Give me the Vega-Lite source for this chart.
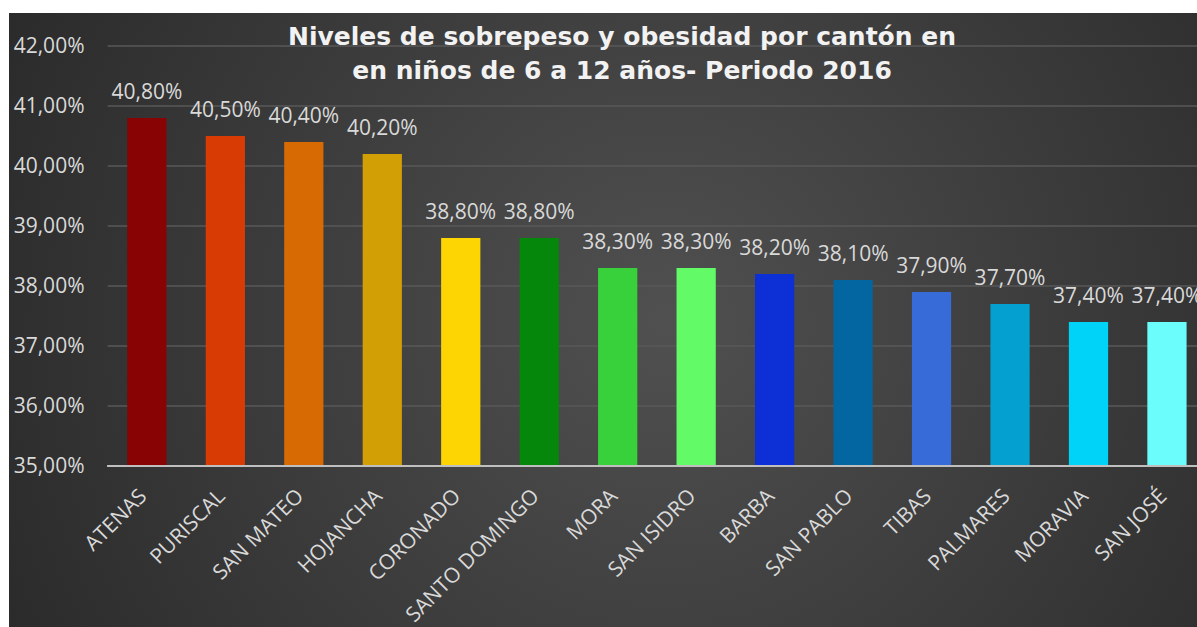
{
  "$schema": "https://vega.github.io/schema/vega-lite/v6.json",
  "autosize": {"type": "none"},
  "padding": {"left": 9, "top": 13, "right": 0, "bottom": 0},
  "width": 1188,
  "height": 614,
  "background": "white",
  "config": {
    "locale": {"number": {"decimal": ",", "thousands": ".", "grouping": [3], "currency": ["", " €"]}},
    "view": {
      "stroke": null,
      "fill": {"gradient": "radial", "x1": 0.55, "y1": 0.5, "x2": 0.55, "y2": 0.5, "r1": 0, "r2": 0.75,
        "stops": [{"offset": 0, "color": "#505050"}, {"offset": 1, "color": "#222222"}]}
    },
    "font": "Open Sans"
  },
  "title": {
    "text": ["Niveles de sobrepeso y obesidad por cantón en", "en niños de 6 a 12 años- Periodo 2016"],
    "font": "DejaVu Sans",
    "fontSize": 25,
    "fontWeight": "bold",
    "color": "#f2f2f2",
    "anchor": "middle",
    "dx": 19,
    "offset": -91,
    "lineHeight": 34,
    "baseline": "alphabetic"
  },
  "datasets": {
    "bars": [
      {"canton": "ATENAS", "valor": 0.408},
      {"canton": "PURISCAL", "valor": 0.405},
      {"canton": "SAN MATEO", "valor": 0.404},
      {"canton": "HOJANCHA", "valor": 0.402},
      {"canton": "CORONADO", "valor": 0.388},
      {"canton": "SANTO DOMINGO", "valor": 0.388},
      {"canton": "MORA", "valor": 0.383},
      {"canton": "SAN ISIDRO", "valor": 0.383},
      {"canton": "BARBA", "valor": 0.382},
      {"canton": "SAN PABLO", "valor": 0.381},
      {"canton": "TIBAS", "valor": 0.379},
      {"canton": "PALMARES", "valor": 0.377},
      {"canton": "MORAVIA", "valor": 0.374},
      {"canton": "SAN JOSÉ", "valor": 0.374}
    ],
    "grid": [{"v": 0.36}, {"v": 0.37}, {"v": 0.38}, {"v": 0.39}, {"v": 0.40}, {"v": 0.41}, {"v": 0.42}]
  },
  "encoding": {
    "x": {
      "field": "canton", "type": "nominal", "sort": null,
      "scale": {
        "domain": ["ATENAS", "PURISCAL", "SAN MATEO", "HOJANCHA", "CORONADO", "SANTO DOMINGO", "MORA", "SAN ISIDRO", "BARBA", "SAN PABLO", "TIBAS", "PALMARES", "MORAVIA", "SAN JOSÉ"],
        "paddingInner": 0.5, "paddingOuter": 0.82, "align": 0.919
      },
      "axis": {
        "title": null, "offset": -161, "labelAngle": -45, "labelPadding": 19, "labelOffset": -11,
        "domain": false, "ticks": false, "labelColor": "#d9d9d9", "labelFont": "Open Sans",
        "labelFontSize": 21, "labelOverlap": false, "labelBound": false, "labelFlush": false
      }
    }
  },
  "layer": [
    {
      "data": {"name": "grid"},
      "mark": {"type": "rule", "color": "#585858", "strokeWidth": 1.5},
      "encoding": {
        "x": {"datum": "ATENAS", "type": "nominal", "bandPosition": -0.5},
        "x2": {"value": "width"},
        "y": {
          "field": "v", "type": "quantitative",
          "scale": {"domain": [0.3231667, 0.4255], "nice": false, "zero": false},
          "axis": {
            "title": null, "values": [0.35, 0.36, 0.37, 0.38, 0.39, 0.40, 0.41, 0.42], "format": ".2%",
            "offset": -99, "grid": false, "domain": false, "ticks": false, "labelPadding": 24,
            "labelColor": "#d9d9d9", "labelFont": "Open Sans", "labelFontSize": 21
          }
        }
      }
    },
    {
      "data": {"name": "bars"},
      "mark": {"type": "bar"},
      "encoding": {
        "y": {"field": "valor", "type": "quantitative"},
        "y2": {"datum": 0.35},
        "color": {
          "field": "canton", "type": "nominal", "legend": null,
          "scale": {
            "domain": ["ATENAS", "PURISCAL", "SAN MATEO", "HOJANCHA", "CORONADO", "SANTO DOMINGO", "MORA", "SAN ISIDRO", "BARBA", "SAN PABLO", "TIBAS", "PALMARES", "MORAVIA", "SAN JOSÉ"],
            "range": ["#880404", "#d93b05", "#d86a03", "#d2a004", "#fdd503", "#04870b", "#38d13c", "#62fb67", "#0c30d6", "#0466a0", "#376bd7", "#03a0d0", "#00d3f8", "#6bfdfb"]
          }
        }
      }
    },
    {
      "data": {"name": "bars"},
      "mark": {"type": "text", "baseline": "alphabetic", "dy": -19, "fontSize": 21, "font": "Open Sans", "color": "#d9d9d9"},
      "encoding": {
        "y": {"field": "valor", "type": "quantitative"},
        "text": {"field": "valor", "type": "quantitative", "format": ".2%"}
      }
    },
    {
      "data": {"name": "grid"},
      "mark": {"type": "rule", "color": "#bfbfbf", "strokeWidth": 2},
      "encoding": {
        "x": {"datum": "ATENAS", "type": "nominal", "bandPosition": -0.5},
        "x2": {"value": "width"},
        "y": {"datum": 0.35, "type": "quantitative"}
      }
    }
  ]
}
